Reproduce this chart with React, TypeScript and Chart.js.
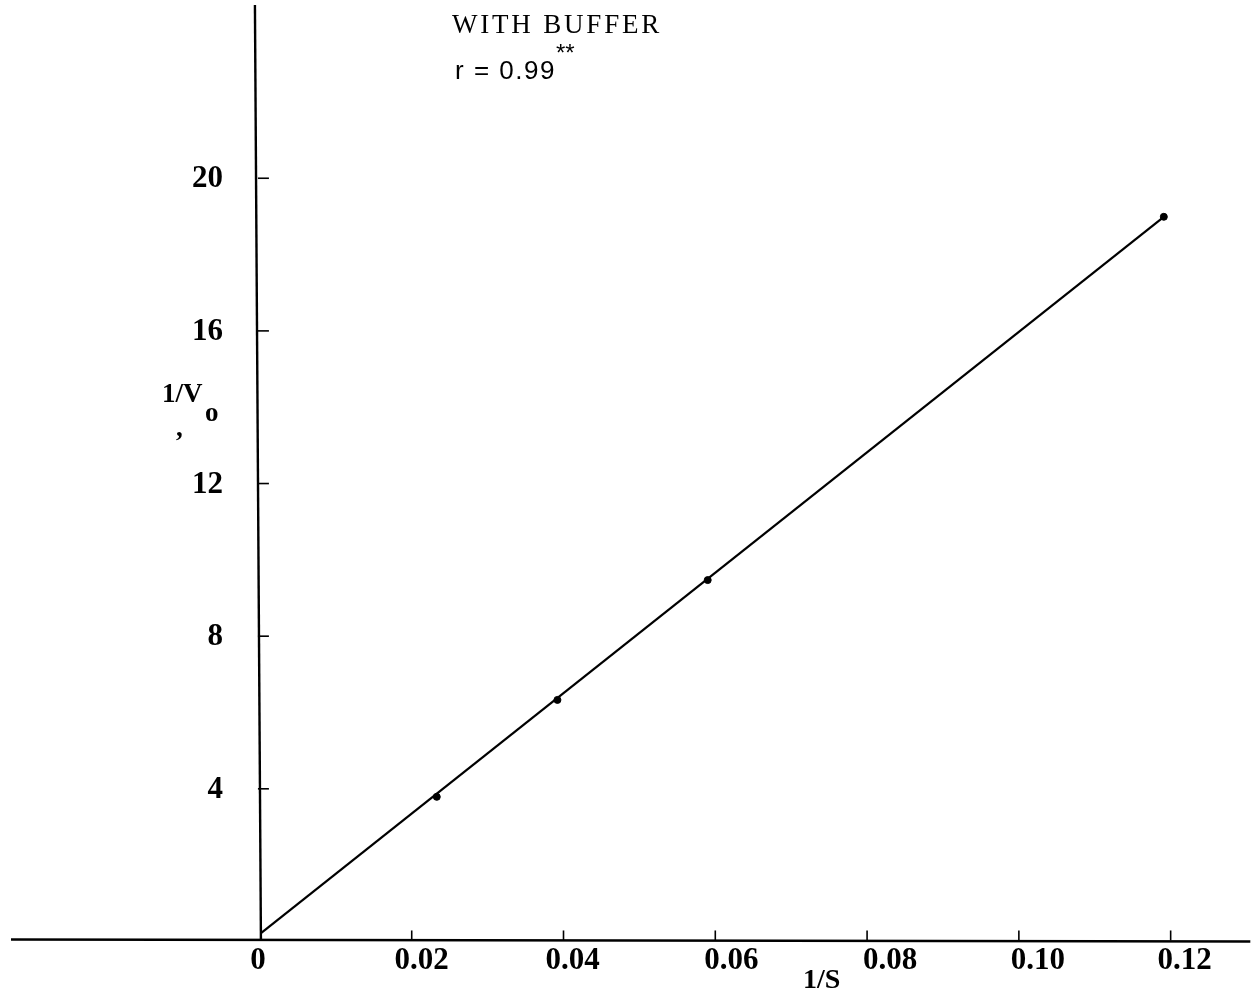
import React, { useEffect, useRef } from "react";
import { Chart, registerables } from "chart.js";

Chart.register(...registerables);

// Measured data points (1/S, 1/Vo)
const pointX = [0.0233, 0.0392, 0.0590, 0.1191];
const pointY = [3.79, 6.33, 9.47, 18.99];

// Fitted line endpoints
const fitX = [0.0001, 0.1191];
const fitY = [0.21, 18.99];

// Axis ticks
const xTicks = [0, 0.02, 0.04, 0.06, 0.08, 0.1, 0.12];
const xTickLabels = ["0", "0.02", "0.04", "0.06", "0.08", "0.10", "0.12"];
const yTicks = [4, 8, 12, 16, 20];
const yTickLabels = ["4", "8", "12", "16", "20"];

// Texts
const titleText = "WITH BUFFER";
const corrText = "r = 0.99";
const corrSup = "**";
const xTitle = "1/S";
const yTitle = "1/V";
const yTitleSub = "o";

// layout constants (hand-lettered label offsets, px)
const X_LABEL_NUDGE = [-2, 10, 9, 16, 23, 19, 14];

const X_MIN = -0.03359;
const X_MAX = 0.13085;
const Y_MIN = -1.167;
const Y_MAX = 24.54;

const axesPlugin = {
  id: "handAxes",
  beforeDatasetsDraw(chart: any) {
    const { ctx, scales } = chart;
    const x = scales.x;
    const y = scales.y;
    const x0 = x.getPixelForValue(0);
    const y0 = y.getPixelForValue(0);
    ctx.save();
    ctx.strokeStyle = "#000";
    ctx.fillStyle = "#000";
    // horizontal axis
    ctx.lineWidth = 2.4;
    ctx.beginPath();
    ctx.moveTo(x.getPixelForValue(-0.0328), y0 - 2);
    ctx.lineTo(x.getPixelForValue(0.1305), y0);
    ctx.stroke();
    // vertical axis
    ctx.beginPath();
    ctx.moveTo(x0 - 5, y.getPixelForValue(Y_MAX));
    ctx.lineTo(x0 + 1, y0 - 2);
    ctx.stroke();
    // x tick marks
    ctx.lineWidth = 1.6;
    xTicks.forEach((v) => {
      if (v === 0) return;
      const px = x.getPixelForValue(v);
      ctx.beginPath();
      ctx.moveTo(px, y0 - 1);
      ctx.lineTo(px, y0 - 11);
      ctx.stroke();
    });
    // y tick marks
    yTicks.forEach((v) => {
      const py = y.getPixelForValue(v);
      ctx.beginPath();
      ctx.moveTo(x0 - 2, py);
      ctx.lineTo(x0 + 9, py);
      ctx.stroke();
    });
    // x tick labels
    ctx.font = "bold 31px 'Liberation Serif', serif";
    ctx.textAlign = "center";
    ctx.textBaseline = "middle";
    xTicks.forEach((v, i) => {
      const px = x.getPixelForValue(v) + X_LABEL_NUDGE[i];
      ctx.fillText(xTickLabels[i], px, y0 + 20);
    });
    // y tick labels
    ctx.font = "bold 31px 'Liberation Serif', serif";
    ctx.textAlign = "right";
    yTicks.forEach((v, i) => {
      const py = y.getPixelForValue(v);
      ctx.fillText(yTickLabels[i], x0 - 37, py + 1);
    });
    // axis titles
    ctx.textAlign = "left";
    ctx.font = "bold 28px 'Liberation Serif', serif";
    ctx.fillText(xTitle, 803, 981);
    ctx.font = "bold 27px 'Liberation Serif', serif";
    ctx.fillText(yTitle, 162, 395);
    ctx.fillText(yTitleSub, 205, 414);
    ctx.fillText(",", 176, 429);
    // title
    ctx.font = "27px 'Liberation Serif', serif";
    (ctx as any).letterSpacing = "2.8px";
    ctx.textAlign = "left";
    ctx.fillText(titleText, 452, 26);
    ctx.font = "26px 'Liberation Sans', sans-serif";
    (ctx as any).letterSpacing = "1.5px";
    ctx.fillText(corrText, 455, 72);
    const w = ctx.measureText(corrText).width;
    (ctx as any).letterSpacing = "0px";
    ctx.font = "24px 'Liberation Sans', sans-serif";
    ctx.fillText(corrSup, 455 + w, 54);
    ctx.restore();
  },
};

export default function App() {
  const canvasRef = useRef<HTMLCanvasElement | null>(null);

  useEffect(() => {
    if (!canvasRef.current) return;
    const chart = new Chart(canvasRef.current, {
      type: "scatter",
      data: {
        datasets: [
          {
            data: fitX.map((v, i) => ({ x: v, y: fitY[i] })),
            showLine: true,
            borderColor: "#000",
            borderWidth: 2.2,
            pointRadius: 0,
          },
          {
            data: pointX.map((v, i) => ({ x: v, y: pointY[i] })),
            showLine: false,
            pointRadius: 3.5,
            backgroundColor: "#000",
            borderColor: "#000",
          },
        ],
      },
      options: {
        animation: false,
        responsive: false,
        layout: { padding: 0 },
        plugins: { legend: { display: false }, tooltip: { enabled: false } },
        scales: {
          x: { type: "linear", min: X_MIN, max: X_MAX, display: false },
          y: { type: "linear", min: Y_MIN, max: Y_MAX, display: false },
        },
      },
      plugins: [axesPlugin],
    });
    return () => chart.destroy();
  }, []);

  return (
    <div
      style={{
        position: "fixed",
        left: 0,
        top: 0,
        width: 1258,
        height: 991,
        background: "#fff",
      }}
    >
      <canvas ref={canvasRef} width={1258} height={991} />
    </div>
  );
}
